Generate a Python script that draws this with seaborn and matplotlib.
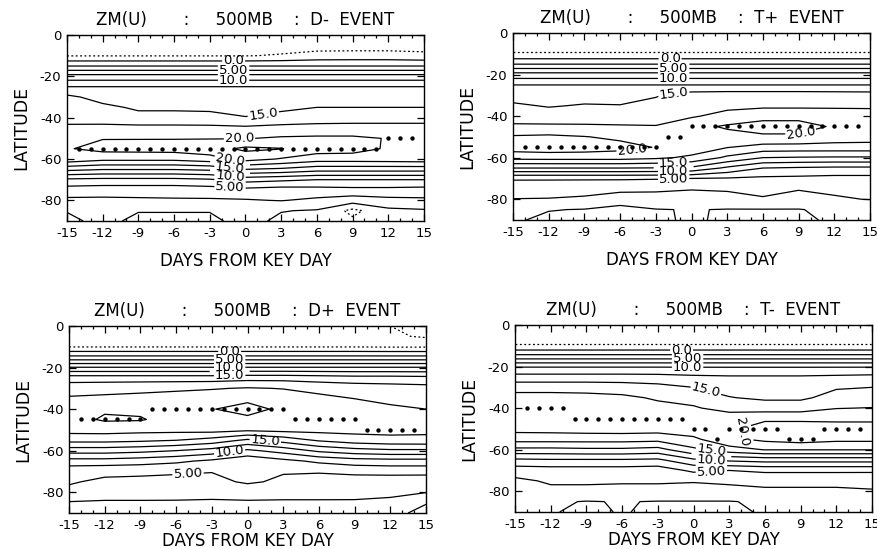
import numpy as np
import matplotlib
matplotlib.use('Agg')
import matplotlib.pyplot as plt
import seaborn as sns

sns.set_theme(style='ticks')
plt.rcParams['font.family'] = ['DejaVu Sans']
plt.rcParams['axes.unicode_minus'] = False

# grid: days from key day (columns), latitude (rows)
days = [-15, -12, -9, -6, -3, 0, 3, 6, 9, 12, 15]
lats = [0, -5, -10, -15, -20, -25, -30, -35, -40, -45, -50, -55, -60, -65, -70, -75, -80, -85, -90]

# zonal mean wind (m/s) for each composite
u_dminus = [
    [-4.0, -4.0, -4.0, -4.0, -4.0, -4.0, -4.0, -4.0, -4.0, -4.0, -4.0],
    [-3.5, -3.5, -3.5, -3.5, -3.5, -3.5, -3.5, -3.5, -3.5, -3.5, -3.5],
    [-2.6, -2.6, -2.6, -2.6, -2.6, -2.6, -2.3, -1.7, -1.6, -1.6, -1.9],
    [2.5, 2.5, 2.5, 2.5, 2.5, 2.5, 2.5, 2.5, 2.5, 2.5, 2.5],
    [8.5, 8.5, 8.5, 8.5, 8.5, 8.5, 8.5, 8.5, 8.5, 8.5, 8.5],
    [12.5, 12.5, 12.5, 12.5, 12.5, 12.5, 12.5, 12.5, 12.5, 12.5, 12.5],
    [15.6, 14.0, 13.6, 13.6, 13.6, 13.5, 13.7, 13.8, 13.8, 13.8, 13.8],
    [16.0, 15.6, 14.6, 14.6, 14.6, 14.2, 14.6, 15.0, 15.0, 15.0, 15.0],
    [16.6, 16.3, 15.8, 15.8, 15.6, 15.1, 15.6, 16.0, 16.2, 16.2, 16.2],
    [18.0, 18.2, 18.2, 18.2, 18.2, 18.0, 18.4, 18.6, 18.6, 18.6, 18.6],
    [19.6, 19.9, 19.9, 19.9, 19.9, 19.9, 20.3, 20.4, 20.4, 19.9, 19.7],
    [19.8, 20.8, 20.9, 21.0, 21.5, 23.0, 22.6, 21.2, 21.0, 19.7, 19.3],
    [19.3, 18.2, 18.2, 18.2, 19.0, 21.0, 19.8, 18.7, 18.7, 18.8, 19.0],
    [13.2, 12.6, 12.6, 12.6, 13.0, 15.0, 14.5, 13.5, 13.5, 13.5, 13.5],
    [7.0, 6.8, 6.8, 6.8, 7.2, 8.5, 8.0, 7.5, 7.5, 7.5, 7.5],
    [3.8, 3.6, 3.6, 3.6, 3.8, 4.2, 3.8, 4.0, 4.2, 4.2, 4.0],
    [2.0, 2.0, 2.1, 2.2, 2.2, 2.3, 2.6, 2.0, 1.2, 1.8, 2.0],
    [0.1, 0.5, 0.1, 0.1, 0.1, 0.6, 0.1, -0.2, -3.2, -0.6, -0.3],
    [-0.5, 0.6, -0.5, -0.5, -0.5, 0.8, -0.5, -1.0, -2.0, -1.5, -1.0],
]

u_tplus = [
    [-4.0, -4.0, -4.0, -4.0, -4.0, -4.0, -4.0, -4.0, -4.0, -4.0, -4.0],
    [-3.5, -3.5, -3.5, -3.5, -3.5, -3.5, -3.5, -3.5, -3.5, -3.5, -3.5],
    [-2.3, -2.3, -2.3, -2.3, -2.3, -2.3, -2.3, -2.3, -2.3, -2.3, -2.3],
    [2.5, 2.5, 2.5, 2.5, 2.5, 2.5, 2.5, 2.5, 2.5, 2.5, 2.5],
    [8.5, 8.5, 8.5, 8.5, 8.5, 8.5, 8.5, 8.5, 8.5, 8.5, 8.5],
    [12.5, 12.5, 12.5, 12.5, 12.5, 12.5, 12.5, 12.5, 12.5, 12.5, 12.5],
    [14.0, 13.7, 14.0, 14.0, 14.8, 16.2, 16.4, 16.4, 16.4, 16.3, 16.2],
    [15.4, 14.8, 15.2, 15.1, 15.8, 16.6, 16.8, 17.0, 17.0, 17.0, 17.0],
    [16.4, 16.2, 16.4, 16.4, 16.6, 17.2, 18.4, 19.2, 19.2, 19.0, 18.8],
    [17.9, 17.9, 17.8, 17.7, 17.6, 19.3, 20.3, 21.0, 21.0, 19.7, 19.3],
    [20.3, 20.5, 20.1, 19.5, 19.0, 19.0, 19.2, 19.6, 19.6, 18.8, 18.6],
    [21.2, 21.5, 21.3, 20.8, 19.9, 19.0, 17.6, 16.6, 16.5, 16.5, 16.5],
    [18.4, 18.5, 18.5, 18.5, 18.0, 17.0, 14.5, 12.5, 12.3, 12.2, 12.2],
    [12.5, 12.5, 12.5, 12.5, 12.4, 12.0, 9.5, 7.5, 7.2, 7.0, 7.0],
    [5.3, 5.3, 5.3, 5.3, 5.2, 5.0, 4.8, 4.5, 4.4, 4.2, 4.2],
    [3.5, 3.4, 3.2, 3.0, 2.8, 2.6, 2.7, 3.1, 2.6, 3.0, 3.2],
    [2.45, 2.4, 2.2, 1.5, 1.8, 1.7, 1.9, 2.3, 1.9, 2.2, 2.6],
    [0.5, 0.1, -0.1, -1.0, -0.1, 0.1, -0.1, -0.1, -0.1, 0.5, 0.2],
    [0.3, -0.5, -0.6, -0.8, -0.5, 0.4, -0.5, -0.5, -0.5, 0.4, 0.6],
]

u_dplus = [
    [-4.0, -4.0, -4.0, -4.0, -4.0, -4.0, -4.0, -4.0, -4.2, -5.0, -6.0],
    [-3.5, -3.5, -3.5, -3.5, -3.5, -3.5, -3.5, -3.6, -3.8, -4.6, -5.3],
    [-2.6, -2.6, -2.6, -2.6, -2.6, -2.6, -2.6, -2.6, -2.6, -2.7, -2.7],
    [3.2, 3.2, 3.2, 3.2, 3.2, 3.2, 3.2, 3.2, 3.2, 3.2, 3.2],
    [10.2, 10.2, 10.2, 10.2, 10.2, 10.2, 10.2, 10.2, 10.2, 10.2, 10.2],
    [16.3, 16.3, 16.3, 16.3, 16.3, 16.6, 16.6, 16.3, 16.0, 16.0, 15.8],
    [19.0, 19.2, 19.4, 19.6, 19.8, 20.2, 19.9, 19.3, 18.9, 18.6, 18.4],
    [20.3, 20.5, 20.7, 21.0, 21.6, 22.0, 21.4, 20.6, 20.0, 19.6, 19.3],
    [21.0, 22.2, 22.0, 21.8, 22.4, 23.3, 22.0, 21.2, 20.6, 20.3, 20.0],
    [21.6, 22.8, 22.7, 21.5, 21.5, 22.0, 21.5, 21.8, 21.2, 20.6, 20.3],
    [20.9, 21.0, 20.8, 20.8, 21.0, 20.5, 20.8, 20.8, 20.8, 20.8, 20.6],
    [18.3, 18.3, 18.0, 17.5, 16.5, 14.5, 16.0, 17.8, 18.8, 19.2, 19.3],
    [13.6, 13.6, 13.2, 12.5, 11.5, 9.5, 11.0, 13.0, 14.0, 14.5, 14.5],
    [9.0, 9.0, 8.6, 8.0, 7.0, 5.6, 6.8, 8.0, 8.8, 9.0, 9.0],
    [5.8, 5.5, 5.5, 5.3, 5.1, 5.3, 5.2, 5.2, 5.6, 5.8, 5.8],
    [5.2, 4.6, 4.4, 4.3, 4.2, 5.4, 4.5, 4.0, 3.8, 3.6, 3.5],
    [4.5, 3.6, 3.6, 3.5, 3.4, 3.2, 3.3, 3.3, 3.0, 2.7, 2.6],
    [2.3, 2.2, 2.2, 2.2, 2.1, 2.3, 2.2, 2.2, 2.3, 2.3, 0.2],
    [1.6, 1.5, 1.5, 1.5, 1.5, 1.5, 1.5, 1.5, 1.5, 1.0, -1.0],
]

u_tminus = [
    [-4.0, -4.0, -4.0, -4.0, -4.0, -4.0, -4.0, -4.0, -4.0, -4.0, -4.0],
    [-3.5, -3.5, -3.5, -3.5, -3.5, -3.5, -3.5, -3.5, -3.5, -3.5, -3.5],
    [-2.3, -2.3, -2.3, -2.3, -2.3, -2.3, -2.3, -2.3, -2.3, -2.3, -2.3],
    [3.3, 3.3, 3.3, 3.3, 3.3, 3.3, 3.3, 3.3, 3.3, 3.3, 3.3],
    [9.8, 9.8, 9.8, 9.8, 9.8, 9.8, 9.8, 9.8, 9.8, 9.8, 9.8],
    [13.5, 13.5, 13.5, 13.5, 13.4, 13.0, 12.8, 12.8, 12.8, 13.0, 13.2],
    [16.5, 16.5, 16.5, 16.3, 15.8, 15.0, 14.2, 13.8, 13.8, 14.8, 15.0],
    [18.5, 18.5, 18.3, 18.0, 17.2, 16.5, 15.1, 14.6, 14.6, 15.8, 15.8],
    [19.4, 19.3, 19.0, 18.8, 18.2, 17.8, 16.5, 16.3, 16.3, 17.4, 17.6],
    [19.1, 19.2, 19.2, 19.3, 19.0, 18.6, 19.0, 19.6, 19.6, 19.6, 19.6],
    [18.3, 18.4, 18.6, 18.7, 18.6, 18.9, 19.6, 21.0, 21.0, 20.8, 20.8],
    [16.0, 16.0, 16.0, 16.0, 15.8, 17.0, 19.4, 20.6, 21.2, 20.6, 20.6],
    [11.8, 11.8, 12.0, 12.0, 11.6, 14.5, 16.5, 17.6, 17.6, 17.6, 17.6],
    [7.0, 7.2, 7.2, 7.2, 7.0, 9.5, 10.5, 11.0, 11.0, 11.0, 11.0],
    [3.6, 3.8, 3.8, 3.8, 3.6, 5.5, 5.0, 5.5, 5.5, 5.5, 5.5],
    [2.0, 2.8, 2.8, 2.7, 2.7, 2.6, 2.8, 3.0, 3.0, 3.0, 2.9],
    [1.8, 2.0, 2.0, 2.0, 2.0, 2.0, 2.0, 2.2, 2.2, 2.2, 2.4],
    [0.5, 0.3, -0.1, 0.1, -0.1, -0.1, -0.1, 0.3, 0.5, 0.5, 0.5],
    [0.3, 0.2, -0.6, 0.2, -0.6, -0.6, -0.4, 0.2, 0.3, 0.3, 0.3],
]

# latitude of the jet maximum (dots), days -14 .. 14
dot_days = list(range(-14, 15))
jet_dminus = [-55, -55, -55, -55, -55, -55, -55, -55, -55, -55, -55, -55, -55, -55, -55,
              -55, -55, -55, -55, -55, -55, -55, -55, -55, -55, -55, -50, -50, -50]
jet_tplus = [-55, -55, -55, -55, -55, -55, -55, -55, -55, -55, -55, -55, -50, -50, -45,
             -45, -45, -45, -45, -45, -45, -45, -45, -45, -45, -45, -45, -45, -45]
jet_dplus = [-45, -45, -45, -45, -45, -45, -40, -40, -40, -40, -40, -40, -40, -40, -40,
             -40, -40, -40, -45, -45, -45, -45, -45, -45, -50, -50, -50, -50, -50]
jet_tminus = [-40, -40, -40, -40, -45, -45, -45, -45, -45, -45, -45, -45, -45, -45, -50,
              -50, -55, -50, -50, -50, -50, -50, -55, -55, -55, -50, -50, -50, -50]

label_levels = [0.0, 5.0, 10.0, 15.0, 20.0]
other_levels = [-5.0, -2.5, 2.5, 7.5, 12.5, 17.5, 22.5]
label_fmt = {0.0: '0.0', 5.0: '5.00', 10.0: '10.0', 15.0: '15.0', 20.0: '20.0'}
neg_style = (0, (1.5, 2.0))

panels = [
    ('ZM(U)       :     500MB    :  D-  EVENT', u_dminus, jet_dminus,
     [0.0763, 0.5974, 0.4066, 0.3388], 9,
     [(-1, -12.6), (-1, -17.2), (-1, -21.9), (1.5, -38.5), (-0.5, -50.2),
      (-1.3, -60.5), (-1.3, -64.3), (-1.3, -68.3), (-1.3, -73.7)],
     [(-1, -15), (-1, -19.3), (-1.3, -62.3), (-1.3, -66.3), (-1.3, -70.5)]),
    ('ZM(U)       :     500MB    :  T+  EVENT', u_tplus, jet_tplus,
     [0.5843, 0.5993, 0.4066, 0.3406], 9,
     [(-1.8, -12.4), (-1.5, -17.1), (-1.5, -21.9), (-1.5, -28.8), (-5.0, -56),
      (9.2, -48.5), (-1.5, -62.4), (-1.5, -66.5), (-1.5, -70.2)],
     [(-1.5, -15), (-1.5, -19.3), (-1.5, -64.3), (-1.5, -68.5)]),
    ('ZM(U)       :     500MB    :  D+  EVENT', u_dplus, jet_dplus,
     [0.0786, 0.0656, 0.4066, 0.3406], 0,
     [(-1.5, -12.2), (-1.5, -16.3), (-1.5, -19.9), (-1.5, -23.9), (1.5, -55),
      (-1.5, -60.6), (-5, -71.1)],
     [(-1.5, -14.4), (-1.5, -18.1), (-1.5, -21.9)]),
    ('ZM(U)       :     500MB    :  T-  EVENT', u_tminus, jet_tminus,
     [0.5866, 0.0674, 0.4066, 0.3406], 0,
     [(-1.0, -12.05), (-0.5, -15.9), (-0.5, -20.3), (1.0, -32.5), (3.9, -52),
      (1.5, -60.5), (1.5, -65), (1.5, -70.5)],
     [(-0.5, -14.3), (-0.5, -17.8), (1.5, -62.7), (1.5, -67.7)]),
]

fig = plt.figure(figsize=(8.78, 5.49), dpi=100)

for title, field, jet, rect, xpad, lab_pos, gap_pos in panels:
    ax = fig.add_axes(rect)
    u = np.array(field)

    # labelled contour levels
    cs_lab = ax.contour(days, lats, u, levels=label_levels, colors='black', linewidths=0.9)
    ax.clabel(cs_lab, fmt=label_fmt, fontsize=9.5, inline=True, inline_spacing=1,
              manual=lab_pos)

    # in-between levels, negatives dotted; hidden labels only cut a gap
    styles = ['solid' if lv >= 0 else neg_style for lv in other_levels]
    cs_oth = ax.contour(days, lats, u, levels=other_levels, colors='black',
                        linewidths=0.9, linestyles=styles)
    before = list(ax.texts)
    ax.clabel(cs_oth, fmt='%.2f', fontsize=9.5, inline=True, inline_spacing=1,
              manual=gap_pos)
    for t in ax.texts:
        if t not in before:
            t.set_visible(False)

    # jet maximum
    sns.scatterplot(x=dot_days, y=jet, ax=ax, color='black', s=10,
                    linewidth=0, zorder=4, legend=False)

    ax.set_xlim(-15, 15)
    ax.set_ylim(-90, 0)
    ax.set_xticks(np.arange(-15, 16, 3))
    ax.set_xticks(np.arange(-15, 16, 1), minor=True)
    ax.set_yticks([0, -20, -40, -60, -80])
    ax.tick_params(which='both', direction='in', top=True, right=True,
                   labelsize=9.5, width=0.9, color='black', labelcolor='black', pad=4)
    ax.tick_params(which='major', length=5)
    ax.tick_params(which='minor', length=2.5)
    for sp in ax.spines.values():
        sp.set_color('black')
        sp.set_linewidth(1.0)

    ax.set_title(title, fontsize=12, pad=7, color='black')
    ax.set_xlabel('DAYS FROM KEY DAY', fontsize=12, labelpad=xpad, color='black')
    ax.set_ylabel('LATITUDE', fontsize=12.5, labelpad=7, color='black')

fig.savefig('out.png', dpi=100, facecolor='white')
